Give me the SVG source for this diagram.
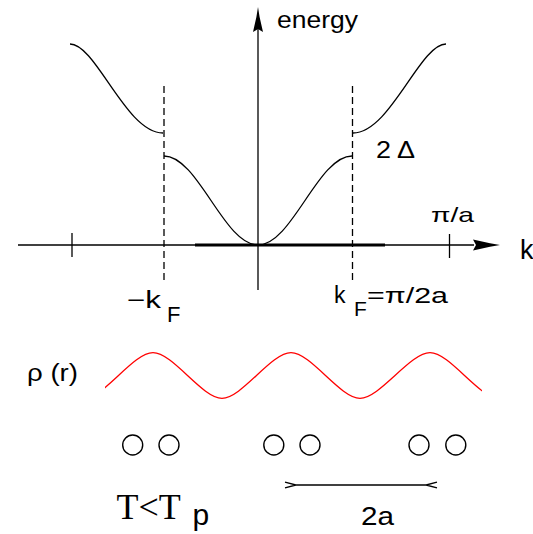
<svg xmlns="http://www.w3.org/2000/svg" width="533" height="534" viewBox="0 0 533 534">
<style>
.ln{stroke:#000;stroke-width:1.3;fill:none}
.band{stroke:#000;stroke-width:1.3;fill:none}
.dash{stroke:#000;stroke-width:1.3;fill:none;stroke-dasharray:7 4}
.t{font-family:"Liberation Sans",Arial,sans-serif;fill:#000}
.atom{stroke:#000;stroke-width:1.4;fill:none}
</style>
<defs>
<marker id="ah" markerWidth="12" markerHeight="8" refX="0" refY="4" orient="auto-start-reverse" markerUnits="userSpaceOnUse">
<path d="M11,1.2 L0,4 L11,6.8" stroke="#000" stroke-width="1.3" fill="none"/>
</marker>
<clipPath id="wc"><rect x="105" y="330" width="377" height="80"/></clipPath>
</defs>
<rect width="533" height="534" fill="#fff"/>
<g id="axes">
<line class="ln" x1="18" y1="245" x2="474" y2="245"/>
<path d="M500,245 L490,243.3 L473,239.5 L476,245 L473,250.5 L490,246.7 Z" fill="#000"/>
<line class="ln" x1="258" y1="290" x2="258" y2="28"/>
<path d="M258,7 L259.6,17 L263,32 L258,29 L253,32 L256.4,17 Z" fill="#000"/>
<line class="ln" x1="72" y1="233" x2="72" y2="257"/>
<line class="ln" x1="449.5" y1="234" x2="449.5" y2="258"/>
<line x1="195" y1="245" x2="385" y2="245" stroke="#000" stroke-width="3.2"/>
<line class="dash" x1="164" y1="86" x2="164" y2="282"/>
<line class="dash" x1="352.5" y1="86" x2="352.5" y2="281"/>
</g>
<g id="bands">
<path class="band" d="M258,245 C292,245 318,156 352,156"/>
<path class="band" d="M353,133 C390,133 420,44 446,44"/>
<g transform="translate(516,0) scale(-1,1)">
<path class="band" d="M258,245 C292,245 318,156 352,156"/>
<path class="band" d="M353,133 C390,133 420,44 446,44"/>
</g>
</g>
<g id="labels">
<text class="t" x="277" y="28" font-size="23" textLength="81" lengthAdjust="spacingAndGlyphs">energy</text>
<text class="t" x="376" y="157.5" font-size="23" textLength="39" lengthAdjust="spacingAndGlyphs">2 Δ</text>
<text class="t" x="431" y="222" font-size="21" textLength="43" lengthAdjust="spacingAndGlyphs">π/a</text>
<text class="t" x="520" y="259" font-size="27">k</text>
<text class="t" x="127" y="308.3" font-size="23" textLength="34" lengthAdjust="spacingAndGlyphs">−k</text>
<text class="t" x="167" y="322" font-size="22">F</text>
<text class="t" x="334" y="302.7" font-size="23">k</text>
<text class="t" x="354" y="315.5" font-size="21">F</text>
<text class="t" x="367" y="302.7" font-size="22" textLength="81" lengthAdjust="spacingAndGlyphs">=π/2a</text>
<text class="t" x="27" y="381" font-size="23" textLength="51" lengthAdjust="spacingAndGlyphs">ρ (r)</text>
<text x="116.5" y="518.5" font-size="36" font-family="'Liberation Serif','Times New Roman',serif">T&lt;T</text>
<text class="t" x="192.5" y="524.5" font-size="30">p</text>
<text class="t" x="361" y="525" font-size="26" textLength="33" lengthAdjust="spacingAndGlyphs">2a</text>
</g>
<g id="density">
<path clip-path="url(#wc)" d="M84,398.3 C104,398.3 133,352.7 153,352.7 C173,352.7 202,398.3 222,398.3 C242,398.3 271,352.7 291,352.7 C311,352.7 340,398.3 360,398.3 C380,398.3 410,352.7 430,352.7 C450,352.7 479,398.3 499,398.3" stroke="#ff0000" stroke-width="1.3" fill="none"/>
</g>
<g id="atoms">
<circle class="atom" cx="132.7" cy="445" r="10"/>
<circle class="atom" cx="169" cy="445" r="10"/>
<circle class="atom" cx="273.8" cy="445" r="10"/>
<circle class="atom" cx="310" cy="445" r="10"/>
<circle class="atom" cx="419" cy="445" r="10"/>
<circle class="atom" cx="455.8" cy="445" r="10"/>
</g>
<g id="connectors">
<line x1="296" y1="485" x2="426" y2="485" stroke="#000" stroke-width="1.3" marker-start="url(#ah)" marker-end="url(#ah)"/>
</g>
</svg>
